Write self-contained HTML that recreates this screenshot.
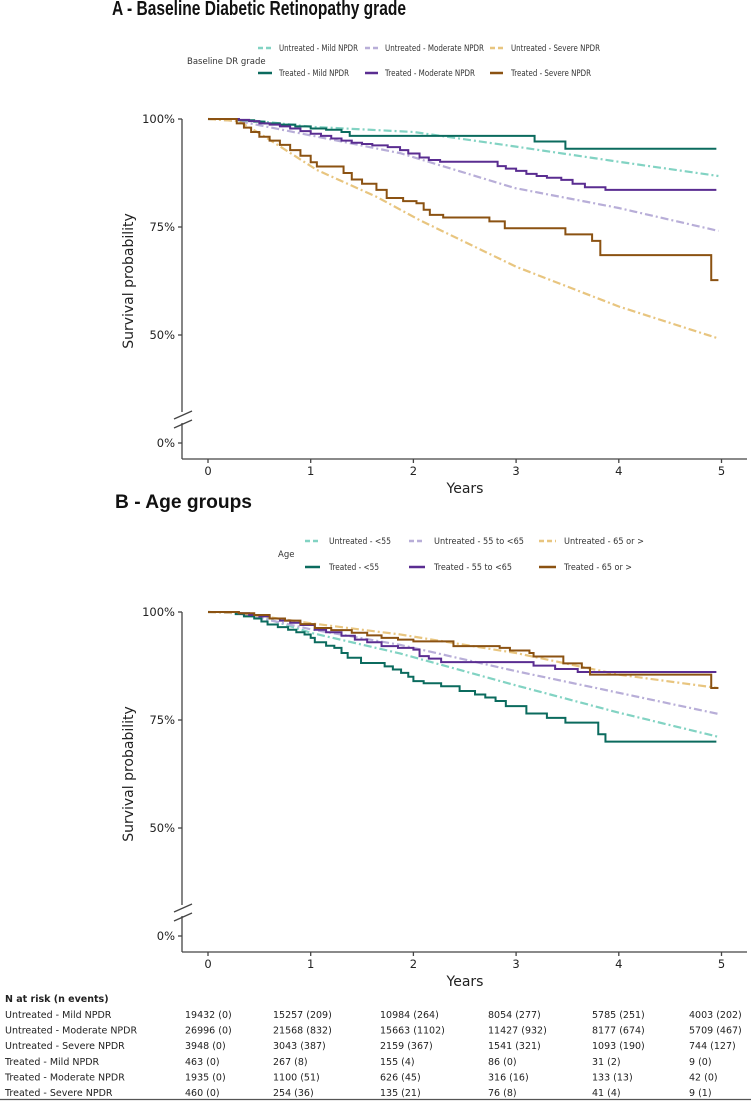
<!DOCTYPE html>
<html><head><meta charset="utf-8"><style>
html,body{margin:0;padding:0;background:#fff;}
svg{display:block;font-family:"DejaVu Sans","Liberation Sans",sans-serif;}
</style></head><body>
<svg id="chart" width="751" height="1103" viewBox="0 0 751 1103" xmlns="http://www.w3.org/2000/svg">
<rect width="751" height="1103" fill="#fff"/>
</svg>
<script>
// ---- Data: panel A (baseline DR grade) ----
const aUntrMildT=[0,0.5,1,2,3,4,4.97];
const aUntrMildS=[1,0.995,0.982,0.970,0.936,0.901,0.868];
const aUntrModT=[0,0.3,1,1.87,2.99,4,4.97];
const aUntrModS=[1,0.995,0.962,0.921,0.840,0.794,0.741];
const aUntrSevT=[0,0.3,0.5,1.06,1.64,2.06,3,4,4.97];
const aUntrSevS=[1,0.995,0.967,0.882,0.820,0.766,0.658,0.566,0.492];
const aTrMildT=[0,0.3,0.45,0.55,0.7,0.85,1.0,1.15,1.3,1.38,3.18,3.48,4.95];
const aTrMildS=[1,0.997,0.994,0.99,0.987,0.983,0.978,0.975,0.97,0.961,0.948,0.931,0.931];
const aTrModT=[0,0.3,0.4,0.5,0.6,0.7,0.8,0.9,1.0,1.1,1.2,1.3,1.4,1.5,1.6,1.75,1.87,1.95,2.06,2.15,2.26,2.82,2.9,3.0,3.1,3.2,3.3,3.44,3.55,3.67,3.87,4.95];
const aTrModS=[1,0.998,0.995,0.99,0.987,0.983,0.978,0.972,0.966,0.961,0.955,0.95,0.945,0.942,0.939,0.935,0.928,0.92,0.911,0.905,0.901,0.891,0.885,0.88,0.873,0.868,0.864,0.859,0.85,0.842,0.836,0.836];
const aTrSevT=[0,0.28,0.35,0.42,0.5,0.6,0.7,0.8,0.9,1.0,1.06,1.32,1.4,1.5,1.64,1.74,1.9,2.03,2.1,2.16,2.29,2.74,2.89,3.48,3.74,3.82,4.9,4.97];
const aTrSevS=[1,0.99,0.98,0.97,0.959,0.95,0.94,0.928,0.915,0.90,0.89,0.875,0.86,0.85,0.836,0.817,0.81,0.805,0.79,0.778,0.772,0.763,0.747,0.733,0.718,0.685,0.627,0.627];
// ---- Data: panel B (age groups) ----
const bUntr55T=[0,0.3,0.5,1,1.87,3,4,4.97];
const bUntr55S=[1,0.997,0.99,0.952,0.904,0.830,0.767,0.711];
const bUntr5565T=[0,0.3,1,1.87,3,4,4.97];
const bUntr5565S=[1,0.997,0.960,0.924,0.863,0.813,0.764];
const bUntr65T=[0,0.3,1,1.87,3,4,4.97];
const bUntr65S=[1,0.998,0.974,0.948,0.905,0.855,0.824];
const bTr55T=[0,0.27,0.35,0.45,0.52,0.58,0.68,0.78,0.86,0.94,1.0,1.04,1.15,1.23,1.3,1.36,1.49,1.72,1.8,1.88,1.95,2.0,2.1,2.27,2.45,2.6,2.7,2.8,2.9,3.1,3.3,3.48,3.8,3.87,4.95];
const bTr55S=[1,0.995,0.99,0.985,0.978,0.971,0.965,0.959,0.953,0.948,0.94,0.93,0.922,0.917,0.905,0.894,0.882,0.874,0.867,0.859,0.85,0.84,0.835,0.828,0.817,0.809,0.802,0.794,0.782,0.765,0.755,0.744,0.717,0.70,0.70];
const bTr5565T=[0,0.3,0.4,0.5,0.6,0.7,0.8,0.9,1.04,1.15,1.3,1.43,1.55,1.69,1.85,2.0,2.06,2.15,2.27,3.17,3.38,3.6,4.95];
const bTr5565S=[1,0.997,0.993,0.99,0.985,0.98,0.975,0.97,0.959,0.953,0.945,0.936,0.93,0.921,0.917,0.913,0.898,0.892,0.884,0.876,0.868,0.861,0.861];
const bTr65T=[0,0.3,0.45,0.6,0.75,0.9,1.04,1.2,1.4,1.55,1.69,1.85,2.0,2.39,2.84,2.94,3.13,3.17,3.46,3.64,3.72,4.9,4.97];
const bTr65S=[1,0.997,0.993,0.985,0.98,0.972,0.963,0.958,0.952,0.946,0.94,0.936,0.932,0.921,0.917,0.911,0.905,0.897,0.881,0.871,0.855,0.824,0.824];
// ---- Axis ticks ----
const xTicks=[0,1,2,3,4,5];
const yTicks=[1,0.75,0.5];
const yTickLabels=["100%","75%","50%"];
// ---- Risk table ----
const riskLabels=["Untreated - Mild NPDR","Untreated - Moderate NPDR","Untreated - Severe NPDR","Treated - Mild NPDR","Treated - Moderate NPDR","Treated - Severe NPDR"];
const riskRows=[
["19432 (0)","15257 (209)","10984 (264)","8054 (277)","5785 (251)","4003 (202)"],
["26996 (0)","21568 (832)","15663 (1102)","11427 (932)","8177 (674)","5709 (467)"],
["3948 (0)","3043 (387)","2159 (367)","1541 (321)","1093 (190)","744 (127)"],
["463 (0)","267 (8)","155 (4)","86 (0)","31 (2)","9 (0)"],
["1935 (0)","1100 (51)","626 (45)","316 (16)","133 (13)","42 (0)"],
["460 (0)","254 (36)","135 (21)","76 (8)","41 (4)","9 (1)"]];

const NS="http://www.w3.org/2000/svg";
const svg=document.getElementById('chart');
function mk(tag,attrs,parent){const e=document.createElementNS(NS,tag);for(const k in attrs)e.setAttribute(k,attrs[k]);(parent||svg).appendChild(e);return e;}
const X0=208,XS=102.7;
function xs(t){return X0+t*XS;}
function ys(p,oy){return 119+oy+(1-p)*432;}

const C={um:"#82d3c3",umod:"#b8aed8",us:"#e8c57f",tm:"#0b6b5e",tmod:"#5a2d91",ts:"#8b5212"};

function drawPanel(oy,title,titleW,titleX,titleFs,legendTitle,ltX,ltY,series,legend,name){
  const g=mk('g',{});
  
  
  const tt=mk('text',{x:titleX,y:15+oy,'font-family':'"Liberation Sans",sans-serif','font-weight':'bold','font-size':titleFs,textLength:titleW,lengthAdjust:'spacingAndGlyphs',fill:'#111'},g);
  tt.textContent=title;
  
  
  const lt=mk('text',{x:ltX,y:ltY,'font-size':8.5,fill:'#333'},g);
  lt.textContent=legendTitle;
  
  
  legend.forEach(L=>{
    const lg=mk('g',{},g);
    
    
    mk('line',{x1:L.lx1,x2:L.lx2,y1:L.y,y2:L.y,stroke:L.c,'stroke-width':2.5,'stroke-dasharray':L.d?'5 3':'none'},lg);
    const t=mk('text',{x:L.tx,y:L.y+3.2,'font-size':9,fill:'#333',textLength:L.w,lengthAdjust:'spacingAndGlyphs'},lg);
    t.textContent=L.label;
  });
  const ax=mk('g',{stroke:'#444','stroke-width':1.3,fill:'none'},g);
  
  
  mk('line',{x1:182,x2:182,y1:119+oy,y2:412+oy},ax);
  mk('line',{x1:182,x2:182,y1:423+oy,y2:459+oy},ax);
  mk('line',{x1:174,y1:419+oy,x2:192,y2:411+oy},ax);
  mk('line',{x1:174,y1:428+oy,x2:192,y2:420+oy},ax);
  yTicks.forEach((p,i)=>{
    const y=ys(p,oy);
    mk('line',{x1:178,x2:182,y1:y,y2:y},ax);
    const t=mk('text',{x:175,y:y+4,'font-size':11.5,'text-anchor':'end',fill:'#222',stroke:'none'},g);
    t.textContent=yTickLabels[i];
    
    
  });
  mk('line',{x1:178,x2:182,y1:443+oy,y2:443+oy},ax);
  const z=mk('text',{x:175,y:447+oy,'font-size':11.5,'text-anchor':'end',fill:'#222'},g);z.textContent="0%";
  const xa=mk('g',{stroke:'#444','stroke-width':1.3},g);
  
  
  mk('line',{x1:182,x2:747,y1:459+oy,y2:459+oy},xa);
  xTicks.forEach(t=>{
    mk('line',{x1:xs(t),x2:xs(t),y1:459+oy,y2:463+oy},xa);
    const l=mk('text',{x:xs(t),y:475+oy,'font-size':11.5,'text-anchor':'middle',fill:'#222'},g);
    l.textContent=String(t);
    
    
  });
  const xt=mk('text',{x:465,y:493+oy,'font-size':14,'text-anchor':'middle',fill:'#222'},g);
  xt.textContent="Years";
  
  
  const yt=mk('text',{x:0,y:0,'font-size':14,'text-anchor':'middle',fill:'#222',transform:`translate(133,${281+oy}) rotate(-90)`},g);
  yt.textContent="Survival probability";
  
  
  series.forEach(s=>{
    let d='';
    for(let i=0;i<s.t.length;i++){
      const x=xs(s.t[i]),y=ys(s.s[i],oy);
      if(i===0)d+=`M${x},${y}`;
      else if(s.step){d+=`H${x}V${y}`;}
      else d+=`L${x},${y}`;
    }
    const p=mk('path',{d:d,fill:'none',stroke:s.c,'stroke-width':s.step?2:2.2,'stroke-dasharray':s.step?'none':'8 3 2 3','stroke-linejoin':'miter'},g);
    
    
  });
}

drawPanel(0,"A - Baseline Diabetic Retinopathy grade",294,112,20,"Baseline DR grade",187,64,[
 {t:aUntrMildT,s:aUntrMildS,c:C.um,step:false,name:'line-untreated-mild'},
 {t:aUntrModT,s:aUntrModS,c:C.umod,step:false,name:'line-untreated-moderate'},
 {t:aUntrSevT,s:aUntrSevS,c:C.us,step:false,name:'line-untreated-severe'},
 {t:aTrMildT,s:aTrMildS,c:C.tm,step:true,name:'line-treated-mild'},
 {t:aTrModT,s:aTrModS,c:C.tmod,step:true,name:'line-treated-moderate'},
 {t:aTrSevT,s:aTrSevS,c:C.ts,step:true,name:'line-treated-severe'}],
 [{lx1:258,lx2:272,tx:279,y:48,w:79,c:C.um,d:true,label:"Untreated - Mild NPDR"},
  {lx1:365,lx2:378,tx:385,y:48,w:99,c:C.umod,d:true,label:"Untreated - Moderate NPDR"},
  {lx1:490,lx2:503,tx:511,y:48,w:89,c:C.us,d:true,label:"Untreated - Severe NPDR"},
  {lx1:258,lx2:272,tx:279,y:73,w:70,c:C.tm,d:false,label:"Treated - Mild NPDR"},
  {lx1:365,lx2:378,tx:385,y:73,w:90,c:C.tmod,d:false,label:"Treated - Moderate NPDR"},
  {lx1:490,lx2:503,tx:511,y:73,w:80,c:C.ts,d:false,label:"Treated - Severe NPDR"}],'panel-a');

drawPanel(493,"B - Age groups",137,115,19,"Age",278,557,[
 {t:bUntr55T,s:bUntr55S,c:C.um,step:false,name:'line-untreated-under55'},
 {t:bUntr5565T,s:bUntr5565S,c:C.umod,step:false,name:'line-untreated-55to65'},
 {t:bUntr65T,s:bUntr65S,c:C.us,step:false,name:'line-untreated-65plus'},
 {t:bTr55T,s:bTr55S,c:C.tm,step:true,name:'line-treated-under55'},
 {t:bTr5565T,s:bTr5565S,c:C.tmod,step:true,name:'line-treated-55to65'},
 {t:bTr65T,s:bTr65S,c:C.ts,step:true,name:'line-treated-65plus'}],
 [{lx1:305,lx2:320,tx:329,y:541,w:62,c:C.um,d:true,label:"Untreated - <55"},
  {lx1:409,lx2:425,tx:434,y:541,w:90,c:C.umod,d:true,label:"Untreated - 55 to <65"},
  {lx1:539,lx2:556,tx:564,y:541,w:80,c:C.us,d:true,label:"Untreated - 65 or >"},
  {lx1:305,lx2:320,tx:329,y:567,w:50,c:C.tm,d:false,label:"Treated - <55"},
  {lx1:409,lx2:425,tx:434,y:567,w:78,c:C.tmod,d:false,label:"Treated - 55 to <65"},
  {lx1:539,lx2:556,tx:564,y:567,w:68,c:C.ts,d:false,label:"Treated - 65 or >"}],'panel-b');

const tg=mk('g',{'font-size':9.5,fill:'#222'});


const hd=mk('text',{x:5,y:1002,'font-weight':'bold'},tg);
hd.textContent="N at risk (n events)";
const colX=[185,273,380,488,592,689];
riskLabels.forEach((lab,i)=>{
  const y=1018+i*15.6;
  const t=mk('text',{x:5,y:y},tg);t.textContent=lab;
  
  
  riskRows[i].forEach((v,j)=>{const c=mk('text',{x:colX[j],y:y},tg);c.textContent=v;});
});
mk('line',{x1:0,x2:751,y1:1099.5,y2:1099.5,stroke:'#555','stroke-width':1.3});
</script>
</body></html>
